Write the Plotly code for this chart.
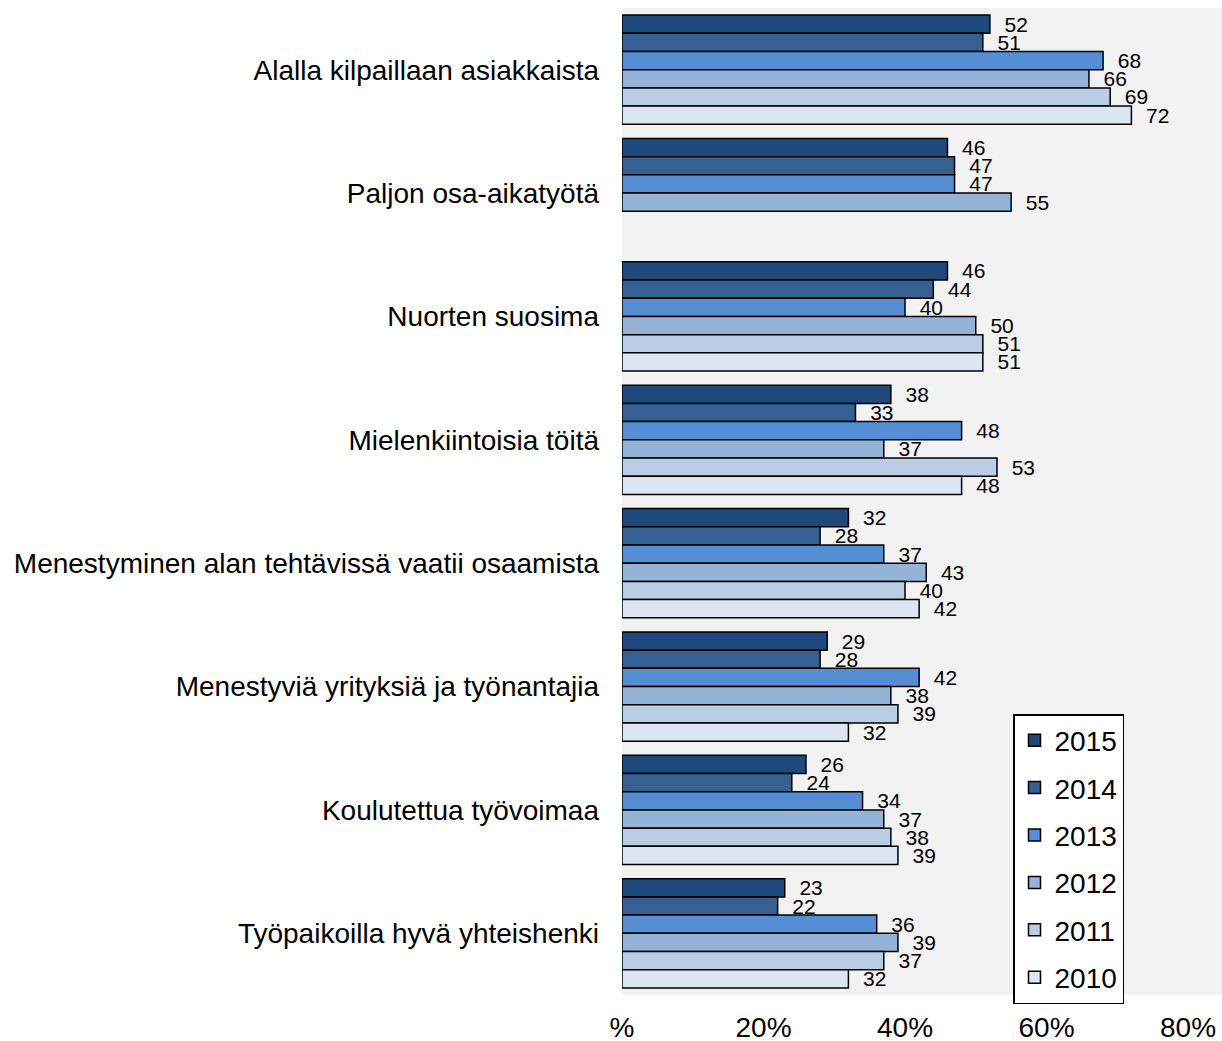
import plotly.graph_objects as go

categories = [
    "Alalla kilpaillaan asiakkaista",
    "Paljon osa-aikatyötä",
    "Nuorten suosima",
    "Mielenkiintoisia töitä",
    "Menestyminen alan tehtävissä vaatii osaamista",
    "Menestyviä yrityksiä ja työnantajia",
    "Koulutettua työvoimaa",
    "Työpaikoilla hyvä yhteishenki",
]

years = ["2015", "2014", "2013", "2012", "2011", "2010"]

v2015 = [52, 46, 46, 38, 32, 29, 26, 23]
v2014 = [51, 47, 44, 33, 28, 28, 24, 22]
v2013 = [68, 47, 40, 48, 37, 42, 34, 36]
v2012 = [66, 55, 50, 37, 43, 38, 37, 39]
v2011 = [69, None, 51, 53, 40, 39, 38, 37]
v2010 = [72, None, 51, 48, 42, 32, 39, 32]
series = [v2015, v2014, v2013, v2012, v2011, v2010]

colors = ["#1F497D", "#366092", "#558ED5", "#95B3D7", "#B9CDE5", "#DCE6F2"]

tick_vals = [0, 20, 40, 60, 80]
tick_text = ["%", "20%", "40%", "60%", "80%"]

FONT = "Liberation Sans, Arial, sans-serif"

fig = go.Figure()
for year, vals, col in zip(years, series, colors):
    fig.add_trace(go.Bar(
        y=categories,
        x=vals,
        name=year,
        orientation="h",
        legendgroup=year,
        marker=dict(color=col, line=dict(color="black", width=1.5)),
        text=[None if v is None else "\u00a0\u00a0" + str(v) for v in vals],
        textposition="outside",
        textfont=dict(family=FONT, size=21, color="black"),
        constraintext="none",
        cliponaxis=False,
        hoverinfo="skip",
    ))

fig.update_layout(
    width=1222,
    height=1041,
    barmode="group",
    bargap=0.115,
    bargroupgap=0,
    plot_bgcolor="#F2F2F2",
    paper_bgcolor="white",
    font=dict(family=FONT, size=28, color="black"),
    margin=dict(l=622, r=0, t=8, b=46, autoexpand=False),
    xaxis=dict(
        range=[0, 600 / 7.075],
        tickvals=tick_vals,
        ticktext=tick_text,
        showgrid=False,
        zeroline=False,
        showline=False,
        ticks="",
        tickfont=dict(size=28),
        ticklabelstandoff=13,
        automargin=False,
    ),
    yaxis=dict(
        autorange="reversed",
        showgrid=False,
        zeroline=False,
        showline=False,
        ticks="",
        tickfont=dict(size=28),
        ticklabelstandoff=22,
        automargin=False,
    ),
    legend=dict(
        x=(1013 - 622) / 600,
        y=(995 - 714) / 987,
        xanchor="left",
        yanchor="top",
        bgcolor="white",
        bordercolor="black",
        borderwidth=1.5,
        font=dict(size=28),
        tracegroupgap=8,
        itemwidth=30,
    ),
    showlegend=True,
)

fig.write_html(
    "out.html",
    config={"displayModeBar": False},
    post_script="document.body.style.margin='0';document.body.style.overflow='hidden';",
)
